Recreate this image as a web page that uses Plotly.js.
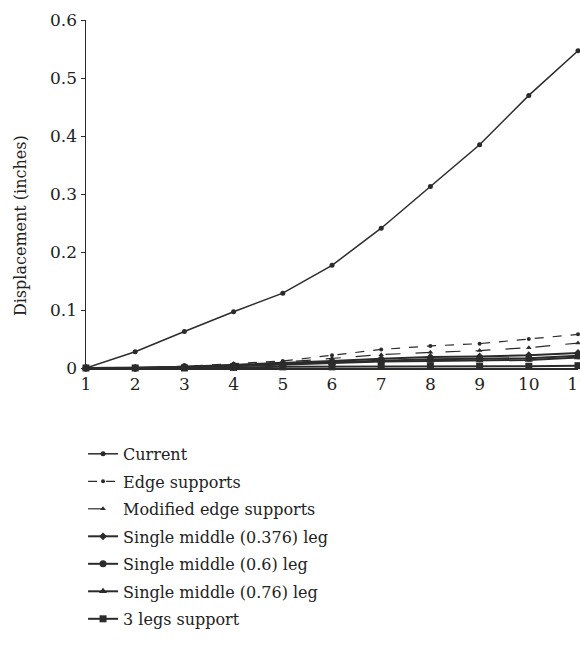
<!DOCTYPE html>
<html>
<head>
<meta charset="utf-8">
<script src="https://cdn.plot.ly/plotly-3.0.1.min.js"></script>
<style>html,body{margin:0;padding:0;background:#fff;}#chart{width:580px;height:670px;}</style>
</head>
<body>
<div id="chart"></div>
<script>
const steps = [1, 2, 3, 4, 5, 6, 7, 8, 9, 10, 11];
const seriesNames = [
  "Current",
  "Edge supports",
  "Modified edge supports",
  "Single middle (0.376) leg",
  "Single middle (0.6) leg",
  "Single middle (0.76) leg",
  "3 legs support"
];
const current        = [0, 0.028, 0.063, 0.097, 0.129, 0.177, 0.241, 0.313, 0.385, 0.470, 0.547];
const edgeSupports   = [0, 0, 0.003, 0.007, 0.012, 0.022, 0.032, 0.038, 0.042, 0.050, 0.058];
const modifiedEdge   = [0, 0, 0.002, 0.005, 0.010, 0.017, 0.023, 0.027, 0.030, 0.035, 0.043];
const middle0376     = [0, 0, 0.002, 0.005, 0.008, 0.012, 0.016, 0.019, 0.020, 0.022, 0.026];
const middle06       = [0, 0, 0.002, 0.004, 0.007, 0.010, 0.013, 0.015, 0.016, 0.017, 0.021];
const middle076      = [0, 0, 0.001, 0.003, 0.006, 0.008, 0.011, 0.012, 0.013, 0.014, 0.018];
const threeLegs      = [0, 0, 0, 0.001, 0.002, 0.002, 0.003, 0.003, 0.003, 0.003, 0.004];
const yTicks = [0, 0.1, 0.2, 0.3, 0.4, 0.5, 0.6];
const yTickText = ["0", "0.1", "0.2", "0.3", "0.4", "0.5", "0.6"];
const yTitle = "Displacement (inches)";

const values = [current, edgeSupports, modifiedEdge, middle0376, middle06, middle076, threeLegs];
const symbols = ["circle", "circle", "triangle-up", "diamond", "circle", "triangle-up", "square"];
const sizes = [5, 4, 5, 6, 7, 7, 7];
const dashes = ["solid", "dash", "longdash", "solid", "solid", "solid", "solid"];
const widths = [1.5, 1.2, 1.2, 2, 2, 2, 2];
const ink = "#2b2b2b";
const serif = "DejaVu Serif, Liberation Serif, serif";

const traces = seriesNames.map((name, i) => ({
  type: "scatter",
  mode: "lines+markers",
  name: name,
  legendgroup: "g" + i,
  x: steps,
  y: values[i],
  line: {color: ink, width: widths[i], dash: dashes[i]},
  marker: {symbol: symbols[i], size: sizes[i], color: ink},
  cliponaxis: false
}));

const layout = {
  width: 580,
  height: 670,
  paper_bgcolor: "#fff",
  plot_bgcolor: "#fff",
  font: {family: serif, size: 16, color: "#222"},
  margin: {l: 86, r: 2, t: 20, b: 302},
  showlegend: true,
  legend: {
    x: -0.006, y: -0.198, xanchor: "left", yanchor: "top",
    tracegroupgap: 3.7,
    font: {family: serif, size: 16, color: "#222"},
    bgcolor: "rgba(0,0,0,0)"
  },
  annotations: [{
    text: yTitle,
    xref: "paper", yref: "paper",
    x: -0.134, y: 0.408,
    xanchor: "center", yanchor: "middle",
    textangle: -90,
    showarrow: false,
    font: {family: serif, size: 16, color: "#222"}
  }],
  xaxis: {
    range: [1, 11],
    tickvals: steps,
    ticktext: steps.map(String),
    showgrid: false,
    zeroline: false,
    showline: true,
    linecolor: ink,
    linewidth: 1.5,
    ticks: "",
    ticklabeloverflow: "allow",
    tickfont: {size: 17}
  },
  yaxis: {
    range: [0, 0.6],
    tickvals: yTicks,
    ticktext: yTickText,
    showgrid: false,
    zeroline: false,
    showline: true,
    linecolor: ink,
    linewidth: 1.5,
    ticks: "outside",
    ticklen: 4,
    tickcolor: ink,
    tickfont: {size: 17}
  }
};

Plotly.newPlot("chart", traces, layout, {displayModeBar: false, staticPlot: true});
</script>
</body>
</html>
